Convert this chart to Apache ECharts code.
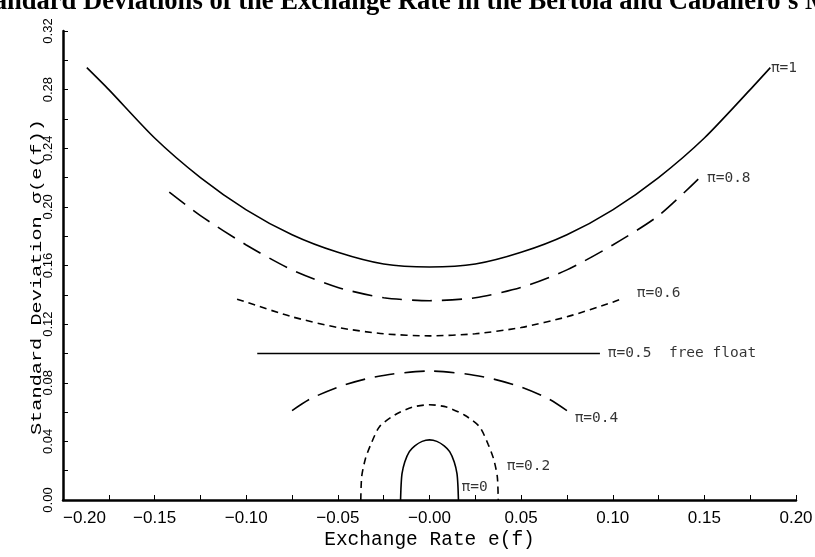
<!DOCTYPE html>
<html><head><meta charset="utf-8">
<script src="https://cdn.jsdelivr.net/npm/echarts@6/dist/echarts.min.js"></script>
<style>html,body{margin:0;padding:0;background:#fff}#c{width:815px;height:557px}</style>
</head><body><div id="c"></div>
<script>
const titleText = "Standard Deviations of the Exchange Rate in the Bertola and Caballero's Model";
const xAxisName = "Exchange Rate e(f)";
const yAxisName = "Standard Deviation σ(e(f))";
const xTickLabels = ['−0.20','−0.15','−0.10','−0.05','−0.00','0.05','0.10','0.15','0.20'];
const yTickLabels = ['0.00','0.04','0.08','0.12','0.16','0.20','0.24','0.28','0.32'];

// [exchange rate, standard deviation]
const curvePi1 = [[-0.187,0.295],[-0.175,0.280],[-0.15,0.247],[-0.125,0.220],[-0.1,0.198],[-0.075,0.181],[-0.05,0.169],[-0.025,0.161],[0,0.159],[0.025,0.161],[0.05,0.169],[0.075,0.181],[0.1,0.198],[0.125,0.220],[0.15,0.247],[0.175,0.280],[0.186,0.295]];
const curvePi08 = [[-0.142,0.210],[-0.125,0.194],[-0.1,0.174],[-0.075,0.157],[-0.05,0.145],[-0.025,0.138],[0,0.136],[0.025,0.138],[0.05,0.145],[0.075,0.157],[0.1,0.174],[0.125,0.194],[0.1475,0.220]];
const curvePi06 = [[-0.105,0.137],[-0.1,0.135],[-0.075,0.125],[-0.05,0.1177],[-0.025,0.1134],[0,0.112],[0.025,0.1134],[0.05,0.1177],[0.075,0.125],[0.1,0.135],[0.106,0.138]];
const curvePi05 = [[-0.094,0.100],[0.093,0.100]];
const curvePi04 = [[-0.075,0.061],[-0.065,0.069],[-0.05,0.077],[-0.035,0.0825],[-0.02,0.086],[0,0.088],[0.02,0.086],[0.035,0.0825],[0.05,0.077],[0.065,0.069],[0.075,0.061]];
const curvePi02 = [[-0.0375,0],[-0.037,0.016],[-0.035,0.028],[-0.032,0.038],[-0.0273,0.050],[-0.019,0.058],[-0.0093,0.0634],[0,0.065],[0.0093,0.0634],[0.019,0.058],[0.0273,0.050],[0.032,0.038],[0.035,0.028],[0.037,0.016],[0.0375,0]];
const curvePi0 = [[-0.0158,0],[-0.0155,0.010],[-0.015,0.018],[-0.0135,0.026],[-0.011,0.033],[-0.008,0.037],[-0.004,0.040],[0,0.041],[0.004,0.040],[0.008,0.037],[0.011,0.033],[0.0135,0.026],[0.015,0.018],[0.0155,0.010],[0.0158,0]];

const curveLabels = [
  {name:'π=1', value:[0.1863,0.2947]},
  {name:'π=0.8', value:[0.1514,0.2196]},
  {name:'π=0.6', value:[0.1131,0.1412]},
  {name:'π=0.5  free float', value:[0.0973,0.1003]},
  {name:'π=0.4', value:[0.0792,0.0559]},
  {name:'π=0.2', value:[0.0421,0.0232]},
  {name:'π=0', value:[0.0175,0.0089]}
];

const longDash = [20, 10];
const shortDash = [7, 5];

function lineSeries(data, type) {
  return {type:'line', data:data, showSymbol:false, smooth:0.25, silent:true,
    lineStyle:{color:'#000', width:1.6, type:type}};
}

const chart = echarts.init(document.getElementById('c'), null, {renderer:'canvas'});
chart.setOption({
  animation:false,
  backgroundColor:'#fff',
  title:{text:titleText, left:-30, top:-11, padding:0,
    textStyle:{fontFamily:'Liberation Serif', fontWeight:'bold', fontSize:26.6, color:'#000'}},
  grid:{left:63, right:19, top:31, bottom:57, containLabel:false, outerBoundsMode:'none'},
  graphic:[{type:'text', x:37, y:277, rotation:Math.PI/2, scaleX:1.35, silent:true,
    style:{text:yAxisName, font:'15px "Liberation Mono"', fontFamily:'Liberation Mono', fontSize:15, fill:'#000',
      align:'center', textAlign:'center', verticalAlign:'middle', textVerticalAlign:'middle'}}],
  xAxis:{type:'value', min:-0.2, max:0.2, interval:0.025,
    name:xAxisName, nameLocation:'middle', nameGap:30, nameMoveOverlap:false,
    nameTextStyle:{fontFamily:'Liberation Mono', fontSize:19.5, color:'#000'},
    axisLine:{show:true, onZero:false, lineStyle:{color:'#000', width:2.5}},
    axisTick:{show:true, inside:true, length:5, lineStyle:{color:'#000', width:1}},
    splitLine:{show:false},
    axisLabel:{color:'#000', fontFamily:'Liberation Sans', fontSize:17, margin:10,
      showMinLabel:true, showMaxLabel:true, alignMinLabel:'left', hideOverlap:false,
      formatter:function(v){const k=(v+0.2)/0.05; const r=Math.round(k); return Math.abs(k-r)<1e-6 ? xTickLabels[r] : '';}}
  },
  yAxis:{type:'value', min:0, max:0.32, interval:0.02,
    axisLine:{show:true, onZero:false, lineStyle:{color:'#000', width:2.5}},
    axisTick:{show:true, inside:true, length:5, lineStyle:{color:'#000', width:1}},
    splitLine:{show:false},
    axisLabel:{color:'#000', fontFamily:'Liberation Sans', fontSize:13, margin:8, rotate:90,
      showMinLabel:true, showMaxLabel:true, hideOverlap:false,
      formatter:function(v){const k=v/0.04; const r=Math.round(k); return Math.abs(k-r)<1e-6 ? yTickLabels[r] : '';}}
  },
  series:[
    lineSeries(curvePi1,'solid'),
    lineSeries(curvePi08,longDash),
    lineSeries(curvePi06,shortDash),
    lineSeries(curvePi05,'solid'),
    lineSeries(curvePi04,longDash),
    lineSeries(curvePi02,shortDash),
    lineSeries(curvePi0,'solid'),
    {type:'scatter', data:curveLabels, symbolSize:0, silent:true,
      label:{show:true, position:'right', distance:0, formatter:'{b}', color:'#000',
        fontFamily:'DejaVu Sans Mono', fontSize:14.5}}
  ]
});
</script></body></html>
